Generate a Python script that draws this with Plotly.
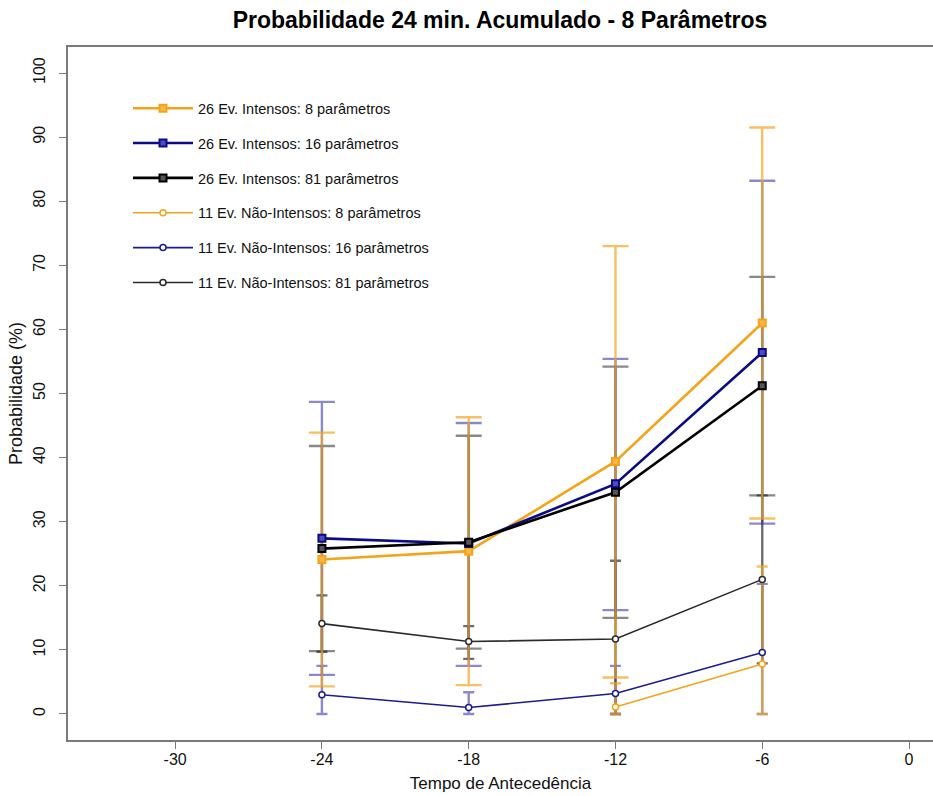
import plotly.graph_objects as go

# ---- data ----
x_lead = [-24, -18, -12, -6]
x_ticks = [-30, -24, -18, -12, -6, 0]
y_ticks = [0, 10, 20, 30, 40, 50, 60, 70, 80, 90, 100]

# 26 intense events
int8_mean = [24.1, 25.4, 39.4, 61.0]
int8_up = [43.9, 46.3, 73.0, 91.5]
int8_lo = [4.3, 4.5, 5.7, 30.5]

int16_mean = [27.4, 26.6, 35.9, 56.4]
int16_up = [48.7, 45.4, 55.4, 83.2]
int16_lo = [6.1, 7.5, 16.2, 29.7]

int81_mean = [25.8, 26.8, 34.6, 51.2]
int81_up = [41.8, 43.4, 54.2, 68.2]
int81_lo = [9.8, 10.2, 15.0, 34.1]

# 11 non-intense events
ni8_mean = [None, None, 1.1, 7.8]
ni8_up = [None, None, 4.8, 23.0]
ni8_lo = [None, None, 0.0, 0.0]

ni16_mean = [3.0, 1.0, 3.2, 9.6]
ni16_up = [7.5, 3.4, 7.5, 20.3]
ni16_lo = [0.0, 0.0, 0.0, 0.0]

ni81_mean = [14.1, 11.3, 11.7, 21.0]
ni81_up = [18.5, 13.7, 23.9, 34.1]
ni81_lo = [9.7, 8.6, 0.0, 7.9]

names = [
    "26 Ev. Intensos: 8 parâmetros",
    "26 Ev. Intensos: 16 parâmetros",
    "26 Ev. Intensos: 81 parâmetros",
    "11 Ev. Não-Intensos: 8 parâmetros",
    "11 Ev. Não-Intensos: 16 parâmetros",
    "11 Ev. Não-Intensos: 81 parâmetros",
]

series = [
    (int8_mean, int8_up, int8_lo),
    (int16_mean, int16_up, int16_lo),
    (int81_mean, int81_up, int81_lo),
    (ni8_mean, ni8_up, ni8_lo),
    (ni16_mean, ni16_up, ni16_lo),
    (ni81_mean, ni81_up, ni81_lo),
]

line_colors = ["#F5A318", "#0B0B85", "#000000", "#F5A318", "#1C1C8E", "#2A2A2A"]
fill_colors = ["#F7B64A", "#4C4CC0", "#555555", "#FFFFFF", "#FFFFFF", "#FFFFFF"]
err_colors = ["rgba(245,165,30,0.7)", "rgba(40,40,160,0.55)", "rgba(40,40,40,0.55)",
              "rgba(245,165,30,0.7)", "rgba(40,40,160,0.55)", "rgba(30,30,30,0.65)"]
symbols = ["square", "square", "square", "circle", "circle", "circle"]
lw = [2.6, 2.6, 2.6, 1.6, 1.6, 1.6]
cap = [13, 13, 13, 5.5, 5.5, 5.5]

fig = go.Figure()

# error bars first (beneath lines); dark ones first, orange on top
err_order = [5, 2, 4, 1, 3, 0]
for i in err_order:
    m, up, lo = series[i]
    xs, ys, ep, em = [], [], [], []
    for xv, mv, u, l in zip(x_lead, m, up, lo):
        if mv is None:
            continue
        xs.append(xv)
        ys.append(mv)
        ep.append(u - mv)
        em.append(mv - l)
    fig.add_trace(go.Scatter(
        x=xs, y=ys, mode="markers", showlegend=False, hoverinfo="skip",
        marker=dict(size=1, color="rgba(0,0,0,0)"),
        error_y=dict(type="data", symmetric=False, array=ep, arrayminus=em,
                     color=err_colors[i], thickness=2.4, width=cap[i]),
    ))

for i, (m, up, lo) in enumerate(series):
    fig.add_trace(go.Scatter(
        x=x_lead, y=m, mode="lines+markers", name=names[i],
        legendgroup=str(i),
        line=dict(color=line_colors[i], width=lw[i]),
        marker=dict(symbol=symbols[i], size=7 if i < 3 else 6,
                    color=fill_colors[i],
                    line=dict(color=line_colors[i], width=2 if i < 3 else 1.5)),
    ))

fig.update_layout(
    width=933, height=796,
    paper_bgcolor="white", plot_bgcolor="white",
    margin=dict(l=68, r=0, t=47, b=56),
    font=dict(family="Liberation Sans, Arial, sans-serif", color="#111111"),
    title=dict(text="<b>Probabilidade 24 min. Acumulado - 8 Parâmetros</b>",
               x=500 / 933, xref="container", xanchor="center",
               y=1 - 20 / 796, yref="container", yanchor="middle",
               font=dict(size=23, color="#000000")),
    legend=dict(x=(128 - 68) / 865, y=(740 - 92) / 693.3, xanchor="left", yanchor="top",
                bgcolor="rgba(0,0,0,0)", borderwidth=0, tracegroupgap=13,
                font=dict(size=14.5, color="#111111"), itemwidth=60),
    showlegend=True,
)

fig.update_xaxes(
    range=[-34.38, 0.98], tickmode="array", tickvals=x_ticks,
    ticktext=[str(v) for v in x_ticks],
    showgrid=False, zeroline=False,
    showline=True, linecolor="#7a7a7a", linewidth=1.5, mirror=True,
    ticks="outside", ticklen=7, tickcolor="#7a7a7a", tickwidth=1.2,
    tickfont=dict(size=16, color="#111111"), ticklabelstandoff=-3,
    title=dict(text="Tempo de Antecedência", font=dict(size=17, color="#111111"), standoff=10),
)
fig.update_yaxes(
    range=[-4.06, 104.06], tickmode="array", tickvals=y_ticks,
    ticktext=[str(v) for v in y_ticks], tickangle=-90,
    showgrid=False, zeroline=False,
    showline=True, linecolor="#7a7a7a", linewidth=1.5, mirror=False,
    ticks="outside", ticklen=7, tickcolor="#7a7a7a", tickwidth=1.2,
    tickfont=dict(size=16, color="#111111"), ticklabelstandoff=8,
    title=dict(text="Probabilidade (%)", font=dict(size=18, color="#111111"), standoff=4),
)

fig.write_html("out.html")
